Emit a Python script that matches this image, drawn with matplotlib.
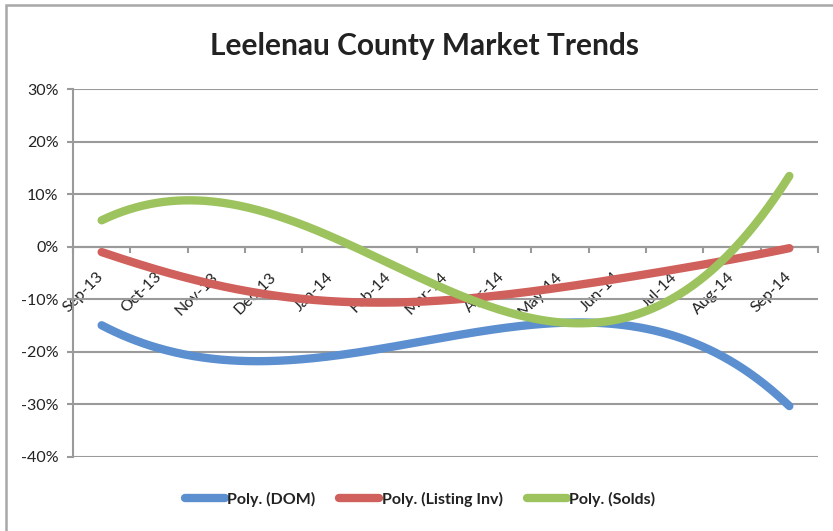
import numpy as np
import matplotlib
matplotlib.use("Agg")
import matplotlib.pyplot as plt
from matplotlib.patches import Rectangle
from matplotlib.ticker import FuncFormatter

# monthly values (percent)
months = ["Sep-13", "Oct-13", "Nov-13", "Dec-13", "Jan-14", "Feb-14", "Mar-14",
          "Apr-14", "May-14", "Jun-14", "Jul-14", "Aug-14", "Sep-14"]
dom = [-14.9, -19.3, -21.5, -21.6, -20.8, -19.0, -17.2, -15.9, -14.3, -14.6, -16.8, -22.2, -30.2]
listing_inv = [-1.0, -4.4, -7.3, -9.2, -10.3, -10.6, -10.4, -8.9, -7.6, -6.3, -4.4, -2.2, -0.3]
solds = [5.1, 8.3, 8.6, 6.4, 2.0, -3.5, -8.2, -11.7, -14.0, -14.1, -10.3, 0.0, 13.3]

series = [("Poly. (DOM)", dom, "#5B8FCF"),
          ("Poly. (Listing Inv)", listing_inv, "#D0605B"),
          ("Poly. (Solds)", solds, "#9CC35D")]

plt.rcParams['font.family'] = ['Lato', 'DejaVu Sans']

fig = plt.figure(figsize=(8.33, 5.31), dpi=100)
ax = fig.add_axes([73 / 833, 1 - 457 / 531, 745 / 833, (457 - 89.3) / 531])

grid_col = "#9a9a9a"
x = np.arange(len(months))
xs = np.linspace(0, len(months) - 1, 300)
for name, vals, col in series:
    # polynomial trendline through the monthly values
    coef = np.polyfit(x, np.array(vals) / 100, 5)
    ax.plot(xs, np.polyval(coef, xs), color=col, lw=6, label=name,
            solid_capstyle="round", zorder=3)

ax.set_xlim(-0.5, len(months) - 0.5)
ax.set_ylim(-0.4, 0.3)
ax.set_yticks(np.arange(-0.4, 0.31, 0.1))
ax.yaxis.set_major_formatter(FuncFormatter(lambda v, p: f"{round(v * 100):d}%"))
ax.yaxis.grid(True, color=grid_col, lw=1.5)
ax.set_axisbelow(True)

for s in ["top", "right"]:
    ax.spines[s].set_visible(False)
ax.spines["left"].set_color(grid_col)
ax.spines["left"].set_linewidth(1.5)
ax.spines["bottom"].set_position(("data", 0))
ax.spines["bottom"].set_color(grid_col)
ax.spines["bottom"].set_linewidth(1.5)

ax.tick_params(axis="y", length=4.5, width=1.5, color=grid_col, pad=6,
               labelsize=11.5, labelcolor="#222222")
ax.set_xticks(x)
ax.set_xticklabels(months, rotation=45, ha="right", va="center",
                   rotation_mode="anchor", fontsize=11.5, color="#222222")
ax.tick_params(axis="x", length=0, pad=20)
ax.set_xticks(np.arange(-0.5, len(months), 1), minor=True)
ax.tick_params(axis="x", which="minor", length=4, width=1.5, color=grid_col,
               direction="out")

fig.text(425 / 833, 1 - 46 / 531, "Leelenau County Market Trends",
         ha="center", va="center", fontsize=21.5, fontweight="bold", color="#222222")

leg = fig.legend(loc="center", bbox_to_anchor=(420 / 833, 1 - 499 / 531), ncol=3,
                 frameon=False, fontsize=11.5, handlelength=2.5, handletextpad=0.15,
                 columnspacing=1.5)
for t in leg.get_texts():
    t.set_color("#222222")
    t.set_fontweight("bold")
for h in leg.get_lines():
    h.set_solid_capstyle("round")

fig.add_artist(Rectangle((6 / 833, -0.1), 1.2, 1.1 - 5 / 531, transform=fig.transFigure,
                         fill=False, edgecolor="#a8a8a8", lw=1.8))

fig.savefig("out.png", dpi=100)
